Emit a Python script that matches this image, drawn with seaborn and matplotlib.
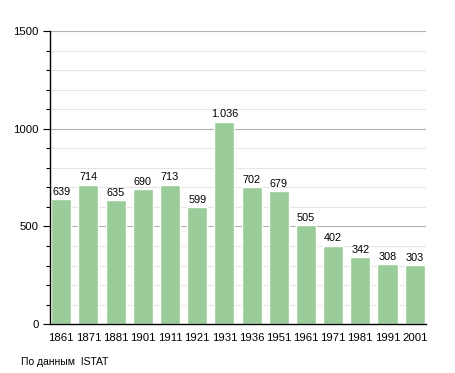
import matplotlib
matplotlib.use("Agg")
import matplotlib.pyplot as plt
import seaborn as sns
import pandas as pd
from matplotlib.ticker import MultipleLocator

years = ["1861", "1871", "1881", "1901", "1911", "1921", "1931",
         "1936", "1951", "1961", "1971", "1981", "1991", "2001"]
population = [639, 714, 635, 690, 713, 599, 1036, 702, 679, 505, 402, 342, 308, 303]
labels = ["639", "714", "635", "690", "713", "599", "1.036",
          "702", "679", "505", "402", "342", "308", "303"]

df = pd.DataFrame({"year": years, "pop": population})

sns.set_style("white")
plt.rcParams["font.family"] = ["Liberation Sans", "DejaVu Sans"]
plt.rcParams["text.color"] = "black"
plt.rcParams["xtick.color"] = "black"
plt.rcParams["ytick.color"] = "black"

fig = plt.figure(figsize=(4.55, 3.73), dpi=100)
ax = fig.add_axes([0.110, 0.131, 0.826, 0.786])

ax.set_ylim(0, 1500)
ax.yaxis.set_major_locator(MultipleLocator(500))
ax.yaxis.set_minor_locator(MultipleLocator(100))
ax.grid(axis="y", which="minor", color="#e6e6e6", linewidth=0.8)
ax.grid(axis="y", which="major", color="#b0b0b0", linewidth=0.8)
ax.set_axisbelow(True)

sns.barplot(data=df, x="year", y="pop", color="#99cc99", saturation=1,
            width=0.74, ax=ax)

for i, (v, lab) in enumerate(zip(population, labels)):
    ax.text(i, v + 12, lab, ha="center", va="bottom", fontsize=7.8)

ax.set_xlim(-0.41, len(years) - 0.59)
ax.set_xlabel("")
ax.set_ylabel("")
for s in ["top", "right"]:
    ax.spines[s].set_visible(False)
ax.spines["left"].set_color("black")
ax.spines["bottom"].set_color("black")
ax.spines["left"].set_linewidth(1)
ax.spines["bottom"].set_linewidth(1)
ax.tick_params(axis="y", which="major", left=True, length=5, width=0.8,
               labelsize=8.2, pad=3, colors="black")
ax.tick_params(axis="y", which="minor", left=True, length=3, width=0.8,
               colors="black")
ax.tick_params(axis="x", bottom=False, labelsize=8.2, pad=3, colors="black")

fig.text(0.046, 0.03, "По данным  ISTAT", fontsize=7.5, ha="left", va="center")

fig.savefig("out.png", dpi=100)
